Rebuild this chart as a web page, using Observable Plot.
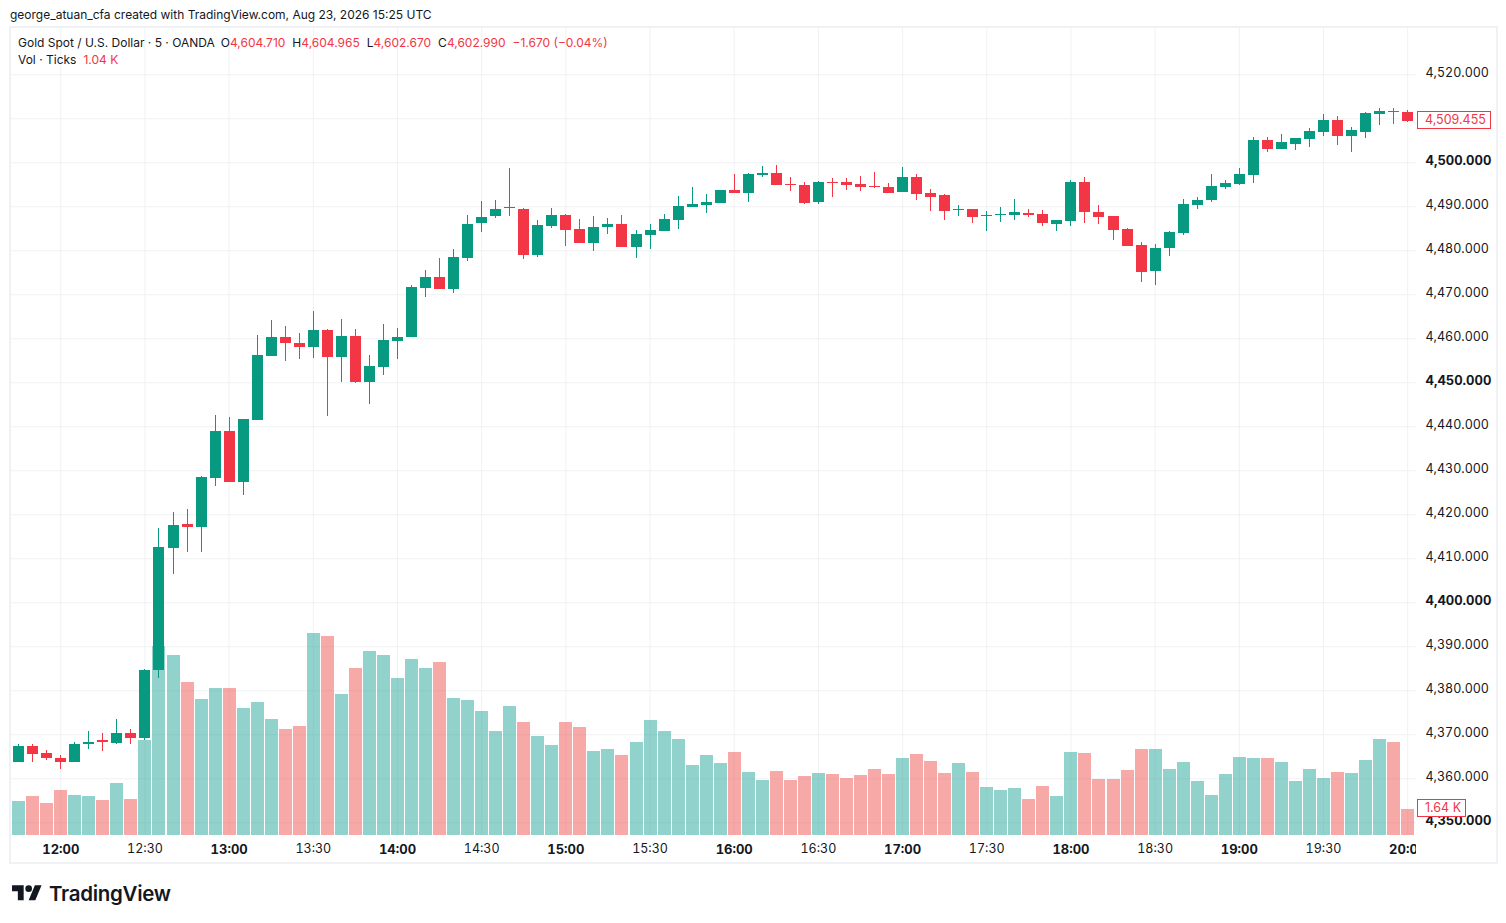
<!DOCTYPE html>
<html>
<head>
<meta charset="utf-8">
<script src="https://cdn.jsdelivr.net/npm/d3@7"></script>
<script src="https://cdn.jsdelivr.net/npm/@observablehq/plot@0.6"></script>
<style>
  body { margin: 0; background: #ffffff; font-family: Inter, "Noto Sans", sans-serif; color: #131722; }
  #wrap { position: relative; width: 1506px; height: 923px; overflow: hidden; background: #fff; }
  .abs { position: absolute; }
  #title { left: 10px; top: 7px; font-size: 12px; white-space: nowrap; }
  #frame { left: 9px; top: 26px; width: 1489px; height: 838px; border: 2px solid #f0f1f4; box-sizing: border-box; }
  .layer { left: 0; top: 28px; }
  #legend { left: 18px; top: 34px; font-size: 12px; line-height: 17px; white-space: nowrap; }
  #legend .r { color: #f23645; }
  #legend .g { display: inline-block; width: 7px; }
  #legend .g0 { display: inline-block; width: 6px; }
  #axisCover { left: 1416px; top: 837px; width: 78px; height: 24px; background: #fff; }
  #logo { left: 12px; top: 881px; display: flex; align-items: center; }
  #logo span { font-size: 20.5px; font-weight: 600; letter-spacing: -0.3px; margin-left: 7px; color: #131722; }
</style>
</head>
<body>
<div id="wrap">
  <div id="title" class="abs">george_atuan_cfa created with TradingView.com, Aug 23, 2026 15:25 UTC</div>
  <div id="frame" class="abs"></div>
  <div id="layerGrid" class="abs layer"></div>
  <div id="layerVol" class="abs layer"></div>
  <div id="layerPrice" class="abs layer"></div>
  <div id="axisCover" class="abs"></div>
  <div id="legend" class="abs">
    <div>Gold Spot / U.S. Dollar · 5 · OANDA<span class="g0"></span>O<span class="r">4,604.710</span><span class="g"></span>H<span class="r">4,604.965</span><span class="g"></span>L<span class="r">4,602.670</span><span class="g"></span>C<span class="r">4,602.990</span><span class="g"></span><span class="r">−1.670 (−0.04%)</span></div>
    <div>Vol · Ticks<span class="g"></span><span class="r">1.04 K</span></div>
  </div>
  <div id="logo" class="abs">
    <svg width="30" height="23.3" viewBox="0 0 36 28"><path fill="#131722" d="M14 22H7V11H0V4h14v18zM28 22h-8l7.5-18h8L28 22z"/><circle fill="#131722" cx="20" cy="8" r="4"/></svg>
    <span>TradingView</span>
  </div>
</div>
<script>
// ---- data (5-minute bars, Gold Spot / USD) ----
const day = "2026-08-23";
const times = ["11:45","11:50","11:55","12:00","12:05","12:10","12:15","12:20","12:25","12:30",
  "12:35","12:40","12:45","12:50","12:55","13:00","13:05","13:10","13:15","13:20",
  "13:25","13:30","13:35","13:40","13:45","13:50","13:55","14:00","14:05","14:10",
  "14:15","14:20","14:25","14:30","14:35","14:40","14:45","14:50","14:55","15:00",
  "15:05","15:10","15:15","15:20","15:25","15:30","15:35","15:40","15:45","15:50",
  "15:55","16:00","16:05","16:10","16:15","16:20","16:25","16:30","16:35","16:40",
  "16:45","16:50","16:55","17:00","17:05","17:10","17:15","17:20","17:25","17:30",
  "17:35","17:40","17:45","17:50","17:55","18:00","18:05","18:10","18:15","18:20",
  "18:25","18:30","18:35","18:40","18:45","18:50","18:55","19:00","19:05","19:10",
  "19:15","19:20","19:25","19:30","19:35","19:40","19:45","19:50","19:55","20:00"];
const open = [4363.6,4367.4,4365.8,4364.7,4363.8,4367.7,4368.6,4368.1,4370.4,4369.2,
  4384.5,4412.4,4417.8,4417.1,4428.2,4438.9,4427.4,4441.4,4455.9,4460.2,
  4459.0,4458.0,4461.8,4455.7,4460.6,4450.0,4453.4,4459.3,4460.2,4471.5,
  4474.0,4471.3,4478.3,4486.2,4487.8,4489.5,4489.4,4479.0,4485.6,4488.0,
  4484.9,4481.7,4485.3,4486.0,4480.8,4483.5,4484.4,4486.9,4489.9,4490.3,
  4490.8,4493.7,4493.0,4497.1,4497.6,4495.1,4494.9,4491.0,4495.5,4495.5,
  4495.1,4494.6,4494.4,4493.3,4496.7,4493.0,4492.6,4489.2,4489.4,4487.8,
  4488.0,4488.0,4488.5,4488.3,4486.0,4486.7,4495.5,4488.7,4487.8,4484.9,
  4481.2,4475.4,4480.6,4484.0,4490.3,4491.4,4494.4,4495.1,4497.1,4505.1,
  4503.0,4504.2,4505.3,4506.9,4509.6,4506.0,4506.9,4511.0,4511.7,4511.4];
const high = [4367.9,4367.7,4366.5,4365.4,4368.3,4370.8,4370.4,4373.5,4371.3,4384.9,
  4416.9,4420.5,4421.2,4428.6,4442.5,4442.1,4441.6,4460.8,4464.2,4462.9,
  4461.3,4466.3,4462.0,4464.4,4462.0,4456.3,4463.3,4462.4,4472.0,4475.6,
  4478.3,4480.3,4488.0,4491.3,4491.5,4498.8,4489.6,4486.9,4489.6,4488.3,
  4487.1,4487.8,4487.4,4488.0,4484.6,4486.0,4488.3,4492.4,4494.4,4492.8,
  4493.7,4497.3,4497.6,4499.2,4499.4,4496.7,4495.5,4495.8,4496.4,4496.4,
  4496.9,4497.8,4495.3,4498.9,4497.3,4493.9,4492.8,4490.3,4489.4,4488.9,
  4489.9,4491.7,4489.4,4489.2,4486.9,4496.0,4496.7,4490.3,4487.8,4485.1,
  4481.9,4481.5,4484.4,4491.7,4492.1,4497.3,4496.0,4498.7,4505.8,4505.8,
  4506.4,4505.5,4507.8,4511.0,4510.5,4508.0,4511.4,4512.3,4512.3,4511.9];
const low = [4363.6,4363.8,4364.2,4362.2,4363.6,4366.7,4366.1,4367.9,4367.9,4368.8,
  4382.9,4406.4,4411.4,4411.4,4426.4,4427.4,4424.4,4441.4,4455.9,4454.8,
  4455.2,4455.5,4442.3,4450.0,4449.8,4445.0,4451.6,4455.2,4460.2,4469.3,
  4471.3,4470.2,4477.5,4484.2,4487.3,4487.8,4478.1,4478.5,4485.1,4481.0,
  4481.7,4479.9,4483.7,4480.8,4478.3,4480.3,4484.4,4484.9,4489.9,4488.5,
  4490.8,4493.0,4491.0,4496.7,4494.9,4493.5,4490.5,4490.5,4492.1,4493.7,
  4493.5,4494.2,4493.0,4493.3,4491.4,4488.9,4486.9,4487.8,4486.2,4484.4,
  4486.5,4486.9,4487.6,4485.6,4484.4,4485.6,4486.2,4486.0,4482.4,4481.0,
  4472.9,4472.2,4478.8,4483.5,4489.4,4491.0,4493.9,4494.9,4495.3,4502.3,
  4503.0,4502.8,4503.5,4506.0,4503.9,4502.3,4505.5,4508.5,4508.7,4509.2];
const close = [4367.4,4365.6,4364.5,4363.8,4367.9,4368.3,4368.2,4370.4,4369.2,4384.7,
  4412.6,4417.6,4417.1,4428.4,4438.9,4427.4,4441.6,4456.1,4460.2,4458.9,
  4458.0,4461.8,4455.7,4460.6,4450.0,4453.6,4459.5,4460.4,4471.7,4474.0,
  4471.3,4478.5,4486.0,4487.6,4489.3,4489.9,4479.0,4485.8,4488.0,4484.7,
  4481.7,4485.3,4486.0,4480.8,4483.7,4484.6,4487.1,4490.1,4490.5,4491.0,
  4493.7,4493.0,4497.3,4497.6,4494.9,4494.9,4490.8,4495.5,4495.3,4494.9,
  4494.4,4494.4,4493.0,4496.7,4492.8,4492.1,4488.9,4489.4,4487.6,4488.0,
  4488.3,4488.7,4488.0,4486.2,4486.9,4495.5,4488.7,4487.6,4484.7,4481.0,
  4475.1,4480.6,4484.2,4490.5,4491.4,4494.6,4495.3,4497.3,4505.1,4503.0,
  4504.6,4505.5,4507.1,4509.6,4506.0,4507.3,4511.2,4511.7,4511.4,4509.455];
// volume in thousands of ticks
const volumeK = [2.15,2.46,2.02,2.84,2.52,2.46,2.21,3.28,2.27,5.99,
  11.92,11.36,9.65,8.58,9.27,9.27,8.01,8.39,7.32,6.69,
  6.88,12.74,12.56,8.90,10.54,11.61,11.36,9.91,11.10,10.54,
  10.91,8.64,8.52,7.82,6.56,8.14,7.13,6.25,5.68,7.13,
  6.81,5.30,5.43,5.05,5.87,7.26,6.56,6.06,4.42,5.05,
  4.54,5.24,3.97,3.47,4.04,3.47,3.72,3.91,3.85,3.60,
  3.79,4.16,3.85,4.86,5.11,4.67,3.91,4.54,3.97,3.03,
  2.84,2.97,2.27,3.09,2.46,5.24,5.17,3.53,3.53,4.10,
  5.43,5.43,4.16,4.61,3.41,2.52,3.85,4.92,4.86,4.86,
  4.61,3.41,4.16,3.60,3.97,3.91,4.73,6.06,5.87,1.64];
const priceTicks = [4350,4360,4370,4380,4390,4400,4410,4420,4430,4440,4450,4460,4470,4480,4490,4500,4510,4520];
const boldPriceTicks = [4350,4400,4450,4500];
const labelledPriceTicks = [4350,4360,4370,4380,4390,4400,4410,4420,4430,4440,4450,4460,4470,4480,4490,4500,4520];
const timeTicks = ["12:00","12:30","13:00","13:30","14:00","14:30","15:00","15:30","16:00","16:30","17:00","17:30","18:00","18:30","19:00","19:30","20:00"];
const lastPriceLabel = "4,509.455";
const lastVolLabel = "1.64 K";

// ---- build ----
const toDate = s => new Date(`${day}T${s.length === 5 ? s + ":00" : s}Z`);
const bars = times.map((t, i) => ({
  date: toDate(t), open: open[i], high: high[i], low: low[i], close: close[i],
  vol: volumeK[i], up: close[i] >= open[i]
}));
const tickDates = timeTicks.map(toDate);
const hourDates = timeTicks.filter(t => t.endsWith(":00")).map(toDate);
const halfDates = timeTicks.filter(t => !t.endsWith(":00")).map(toDate);
const regPriceTicks = labelledPriceTicks.filter(p => !boldPriceTicks.includes(p));

const GREEN = "#089981", RED = "#f23645";
const VGREEN = "#26a69a", VRED = "#ef5350";
const GRID = "#eff1f4";
const FONT = "Inter, 'Noto Sans', sans-serif";
const fmtTime = d3.utcFormat("%H:%M");
const fmtPrice = d3.format(",.3f");

const common = {
  width: 1506, height: 835,
  marginLeft: 10, marginRight: 90, marginTop: 0, marginBottom: 28,
  x: {type: "utc", domain: [toDate("11:42:05"), toDate("20:03:09")], axis: null, label: null},
  style: {fontFamily: FONT, fontSize: "13px", color: "#131722", background: "transparent", overflow: "visible"}
};
const priceY = {domain: [4347.11, 4530.52], axis: null, label: null};

// layer 1: grid
const gridPlot = Plot.plot({
  ...common, y: priceY,
  marks: [
    Plot.gridY(priceTicks, {stroke: GRID, strokeOpacity: 1}),
    Plot.gridX(tickDates, {stroke: GRID, strokeOpacity: 1})
  ]
});
document.getElementById("layerGrid").append(gridPlot);

// layer 2: volume (own scale)
const volPlot = Plot.plot({
  ...common,
  y: {domain: [0, 50.92], axis: null, label: null},
  marks: [
    Plot.ruleX(bars, {x: "date", y1: 0, y2: "vol", stroke: d => d.up ? VGREEN : VRED, strokeOpacity: 0.5, strokeWidth: 13, shapeRendering: "crispEdges"})
  ]
});
document.getElementById("layerVol").append(volPlot);

// layer 3: candles + axes
const pricePlot = Plot.plot({
  ...common, y: priceY,
  marks: [
    Plot.ruleX(bars, {x: "date", y1: "low", y2: "high", stroke: d => d.up ? GREEN : RED, strokeWidth: 1, shapeRendering: "crispEdges"}),
    Plot.ruleX(bars, {x: "date", y1: "open", y2: "close", stroke: d => d.up ? GREEN : RED, strokeWidth: 11, shapeRendering: "crispEdges"}),
    Plot.axisY(regPriceTicks, {anchor: "right", tickSize: 0, tickPadding: 9, textAnchor: "start", dy: -2, tickFormat: fmtPrice, fill: "#131722", fontSize: 12.5, label: null}),
    Plot.axisY(boldPriceTicks, {anchor: "right", tickSize: 0, tickPadding: 9, textAnchor: "start", dy: -2, tickFormat: fmtPrice, fill: "#131722", fontSize: 13, fontWeight: "bold", label: null}),
    Plot.axisX(hourDates, {anchor: "bottom", tickSize: 0, tickPadding: 9, tickFormat: fmtTime, fill: "#131722", fontSize: 13, fontWeight: "bold", label: null}),
    Plot.axisX(halfDates, {anchor: "bottom", tickSize: 0, tickPadding: 9, tickFormat: fmtTime, fill: "#131722", fontSize: 12.5, label: null})
  ]
});
document.getElementById("layerPrice").append(pricePlot);

// last price / last volume badges on the right scale (drawn on top, like the reference)
function badge(svgEl, yPix, text, w) {
  const s = d3.select(svgEl);
  const x0 = common.width - common.marginRight + 1;
  s.append("rect").attr("x", x0 + 0.5).attr("y", Math.round(yPix) - 9.5).attr("width", w).attr("height", 17)
    .attr("fill", "#fff").attr("stroke", RED).attr("stroke-width", 1);
  s.append("text").attr("x", x0 + 8).attr("y", Math.round(yPix) - 1).attr("dy", "0.35em")
    .attr("text-anchor", "start").attr("fill", RED).attr("font-size", 12.5)
    .attr("font-family", FONT).text(text);
}
badge(pricePlot, pricePlot.scale("y").apply(close[close.length - 1]), lastPriceLabel, 73);
badge(pricePlot, volPlot.scale("y").apply(volumeK[volumeK.length - 1]), lastVolLabel, 48);
</script>
</body>
</html>
